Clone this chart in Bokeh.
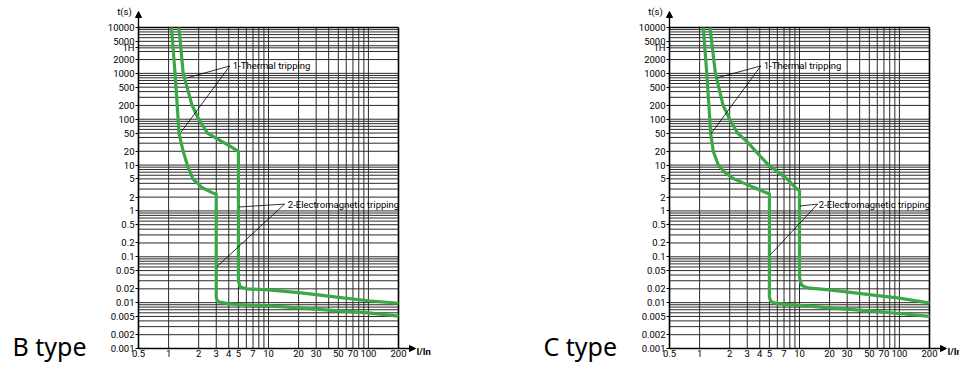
from bokeh.plotting import figure
from bokeh.layouts import row
from bokeh.models import (FixedTicker, CustomJSTickFormatter, Label, Arrow,
                          NormalHead, Range1d)
from bokeh.embed import file_html
from bokeh.resources import INLINE

# ---------------- data ----------------
x_ticks = [0.5, 1, 2, 3, 4, 5, 7, 10, 20, 30, 50, 70, 100, 200]
y_ticks = [0.001, 0.002, 0.005, 0.01, 0.02, 0.05, 0.1, 0.2, 0.5, 1, 2, 5,
           10, 20, 50, 100, 200, 500, 1000, 2000, 3600, 5000, 10000]
x_grid = [1, 2, 3, 4, 5, 6, 7, 8, 9, 10, 20, 30, 40, 50, 60, 70, 80, 90, 100]
y_grid = [k * 10.0 ** n for n in range(-3, 4) for k in range(1, 10)] + [3600]

# B type: lower (min) and upper (max) tripping curves
b_min_x = [1.07, 1.16, 1.22, 1.27, 1.4, 1.54, 1.75, 2.15, 2.72, 3.0, 3.0, 3.1,
           4.0, 5.0, 10, 20, 50, 100, 200]
b_min_y = [10000, 1000, 200, 50, 20, 10, 5, 3.25, 2.5, 2.35, 0.013, 0.0105,
           0.0094, 0.0091, 0.0085, 0.0077, 0.0066, 0.006, 0.0051]
b_max_x = [1.27, 1.4, 1.72, 2.0, 2.45, 3.1, 4.0, 5.0, 5.0, 5.2, 6, 10, 20, 30,
           50, 100, 200]
b_max_y = [10000, 1000, 200, 100, 50, 37, 27, 20, 0.03, 0.022, 0.02, 0.019,
           0.0165, 0.015, 0.013, 0.011, 0.0097]

# C type
c_min_x = [1.09, 1.18, 1.24, 1.29, 1.37, 1.54, 1.8, 2.2, 3.0, 4.0, 5.0, 5.0,
           5.2, 6, 10, 20, 50, 100, 200]
c_min_y = [10000, 1000, 200, 50, 20, 10, 6.8, 5.0, 3.75, 2.85, 2.35, 0.013,
           0.0105, 0.0095, 0.0087, 0.0077, 0.0066, 0.0058, 0.005]
c_max_x = [1.27, 1.44, 1.72, 2.0, 2.4, 3.0, 3.9, 4.9, 7.5, 9.4, 10, 10, 10.5,
           12, 20, 50, 100, 200]
c_max_y = [10000, 1000, 200, 100, 50, 32, 17, 10, 5, 3.0, 2.8, 0.035, 0.024,
           0.021, 0.019, 0.015, 0.0125, 0.0098]

# leader lines (label vertex -> curve)
b_lead_x0 = [4.1, 4.1, 14.5, 14.5]
b_lead_y0 = [1450, 1450, 1.41, 1.41]
b_lead_x1 = [1.54, 1.33, 5.1, 3.05]
b_lead_y1 = [800, 52, 1.22, 0.061]
c_lead_x0 = [4.1, 4.1, 15.2, 15.2]
c_lead_y0 = [1450, 1450, 1.41, 1.41]
c_lead_x1 = [1.5, 1.3, 10.1, 5.1]
c_lead_y1 = [800, 48, 1.28, 0.11]

thermal_text = "1-Thermal tripping"
em_text = "2-Electromagnetic tripping"
thermal_pos = (4.4, 1450)
em_pos = (15.6, 1.41)

# ---------------- layout (pixels) ----------------
X0, X1 = 0.5, 200
Y0, Y1 = 0.001, 10000
H = 366
FW = 260                 # width of the chart area
FT, FBOT = 27, 348       # top / bottom of the chart area
GREEN = "#3aa847"
GRID = "#2a2a2a"
FONT = "Roboto"


def make_panel(name, width, L, cx, cy, lead):
    def xv(px):
        return X0 * (X1 / X0) ** ((px - L) / FW)

    def yv(py):
        return Y1 * (Y0 / Y1) ** ((py - FT) / (FBOT - FT))

    p = figure(width=width, height=H, x_axis_type="log", y_axis_type="log",
               x_range=Range1d(xv(0), xv(width)), y_range=Range1d(yv(H), yv(0)),
               toolbar_location=None, output_backend="svg",
               min_border_left=0, min_border_right=0,
               min_border_top=0, min_border_bottom=0)
    p.min_border = 0
    p.background_fill_color = "white"
    p.border_fill_color = "white"
    p.outline_line_color = None
    p.grid.visible = False

    # grid lines
    p.segment(x0=x_grid, y0=[Y0] * len(x_grid), x1=x_grid, y1=[Y1] * len(x_grid),
              line_color=GRID, line_width=1)
    p.segment(x0=[X0] * len(y_grid), y0=y_grid, x1=[X1] * len(y_grid), y1=y_grid,
              line_color=GRID, line_width=1)
    # frame top and right
    p.segment(x0=[X0, X1], y0=[Y1, Y0], x1=[X1, X1], y1=[Y1, Y1],
              line_color="black", line_width=1.6)

    # axes placed at the chart area's edges
    xa = p.xaxis[0]
    ya = p.yaxis[0]
    xa.fixed_location = Y0
    xa.bounds = (X0, X1)
    ya.fixed_location = X0
    ya.bounds = (Y0, Y1)
    xa.ticker = FixedTicker(ticks=x_ticks, minor_ticks=[])
    ya.ticker = FixedTicker(ticks=y_ticks, minor_ticks=[])
    xa.formatter = CustomJSTickFormatter(code="return String(tick)")
    ya.formatter = CustomJSTickFormatter(
        code="return tick == 3600 ? '1H' : String(tick)")
    for ax in (xa, ya):
        ax.axis_line_color = "black"
        ax.axis_line_width = 1.6
        ax.major_tick_line_color = "black"
        ax.minor_tick_line_color = None
        ax.major_tick_in = 0
        ax.major_label_text_font = FONT
        ax.major_label_text_font_size = "9.5px"
        ax.major_label_text_color = "black"
        ax.major_label_standoff = 1
    ya.major_tick_out = 3
    xa.major_tick_out = 0

    # tripping curves
    for xs, ys in zip(cx, cy):
        p.line(xs, ys, line_color=GREEN, line_width=3.2, line_join="round")

    # leader lines
    p.segment(x0=lead[0], y0=lead[1], x1=lead[2], y1=lead[3],
              line_color="black", line_width=0.8)

    p.add_layout(Label(x=thermal_pos[0], y=thermal_pos[1], text=thermal_text,
                       text_font=FONT, text_font_size="9.5px",
                       text_baseline="middle", text_color="black"))
    p.add_layout(Label(x=em_pos[0], y=em_pos[1], text=em_text,
                       text_font=FONT, text_font_size="9.5px",
                       text_baseline="middle", text_color="black"))

    # axis arrows
    p.add_layout(Arrow(end=NormalHead(size=6, fill_color="black", line_color="black"),
                       x_start=X1, y_start=Y0, x_end=xv(L + 277), y_end=Y0,
                       line_color="black", line_width=1.4))
    p.add_layout(Arrow(end=NormalHead(size=6, fill_color="black", line_color="black"),
                       x_start=X0, y_start=Y1, x_end=X0, y_end=yv(11),
                       line_color="black", line_width=1.4))
    p.add_layout(Label(x=xv(L - 14), y=yv(11), text="t(s)", text_font=FONT,
                       text_font_size="9.5px", text_align="center",
                       text_baseline="middle", text_color="black"))
    p.add_layout(Label(x=xv(L + 278), y=yv(351), text="I/In", text_font=FONT,
                       text_font_size="9.5px", text_font_style="bold",
                       text_baseline="middle", text_color="black"))
    p.add_layout(Label(x=xv(L - 126), y=yv(345), text=name, text_font="Noto Sans",
                       text_font_size="25px", text_baseline="alphabetic",
                       text_color="black"))
    return p


p1 = make_panel("B type", 539, 138, [b_min_x, b_max_x], [b_min_y, b_max_y],
                [b_lead_x0, b_lead_y0, b_lead_x1, b_lead_y1])
p2 = make_panel("C type", 420, 130, [c_min_x, c_max_x], [c_min_y, c_max_y],
                [c_lead_x0, c_lead_y0, c_lead_x1, c_lead_y1])

p = row(p1, p2)
open("out.html", "w").write(file_html(p, INLINE))
